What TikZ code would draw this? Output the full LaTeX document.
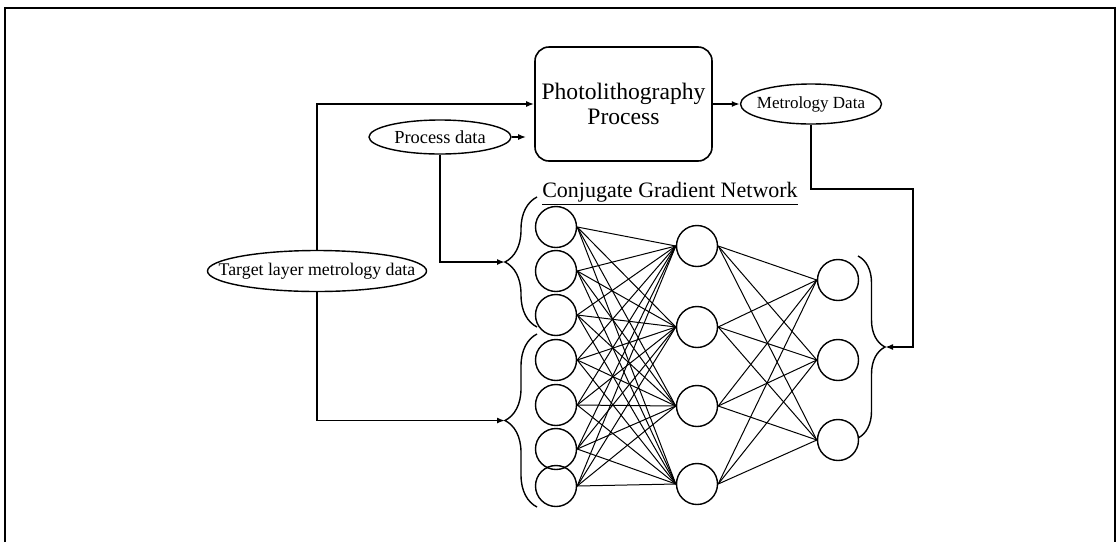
\documentclass[tikz,border=0pt]{standalone}
\usepackage{fontspec}
\setmainfont{Liberation Serif}
\usetikzlibrary{shapes.geometric}
\usetikzlibrary{decorations.pathreplacing}
\usetikzlibrary{arrows.meta}
\tikzset{
  % style for the data ellipses
  data/.style={draw,ellipse,inner sep=0pt,line width=0.7pt},
  % style for the neurons of the network
  neuron/.style={draw,circle,minimum size=20.5pt,inner sep=0pt,line width=0.7pt},
  % style for a connector with a small arrow at its end
  flow/.style={draw,line width=0.85pt,-{Latex[length=4pt,width=3pt]}},
  % style for the curly brackets
  bracket/.style={draw,line width=0.7pt,decorate,decoration={brace,amplitude=#1}},
  weight/.style={line width=0.5pt},
}
% text that may run wider than its ellipse
\newcommand{\squeezed}[1]{\makebox[0pt]{#1}}

\begin{document}
\begin{tikzpicture}[x=0.5pt,y=-0.5pt]
\useasboundingbox (0,0) rectangle (1117,542);
\draw[line width=1pt] (5,542)--(5,8)--(1115,8)--(1115,542);

\node[draw,rounded corners=7pt,minimum width=88.5pt,minimum height=57pt,inner xsep=0pt,
  align=center,line width=0.8pt,font=\fontsize{11.8}{12.5}\selectfont]
  (photo) at (623.5,104) {Photolithography\\Process};
\node[data,minimum width=70.5pt,minimum height=20pt,font=\fontsize{8.5}{10}\selectfont]
  (meas) at (811,104) {\squeezed{Metrology Data}};
\node[data,minimum width=71pt,minimum height=17pt,font=\fontsize{9.2}{11}\selectfont]
  (proc) at (440,137) {\squeezed{Process data}};
\node[data,minimum width=109.5pt,minimum height=20.5pt,font=\fontsize{8.9}{10}\selectfont]
  (tgt) at (317,271) {\squeezed{Target layer metrology data}};
\node[font=\fontsize{11}{13}\selectfont] (cgn) at (670,194)
  {\underline{Conjugate Gradient Network}};

\foreach \i/\y in {1/227,2/271,3/315,4/360,5/405,6/449,7/486}
  \node[neuron] (in\i) at (556,\y) {};
\foreach \j/\y in {1/246,2/327,3/406,4/484}
  \node[neuron] (hid\j) at (697,\y) {};
\foreach \k/\y in {1/280,2/360,3/440}
  \node[neuron] (out\k) at (838,\y) {};

\foreach \i in {1,...,7}
  \foreach \j in {1,...,4}
    \draw[weight] (in\i.east) -- (hid\j.west);
\foreach \j in {1,...,4}
  \foreach \k in {1,...,3}
    \draw[weight] (hid\j.east) -- (out\k.west);

% brackets round the inputs and the outputs
\draw[bracket=16pt] (537,327) -- (537,197);
\draw[bracket=16pt] (537,507) -- (537,334);
\draw[bracket=13.5pt] (858,256) -- (858,438);
\coordinate (uptip) at (505,262);
\coordinate (lowtip) at (505,420.5);
\coordinate (outtip) at (885,347);
\coordinate (fb) at (913,189);

\draw[flow] (tgt.north) |- (photo.west);
\draw[flow,shorten >=4pt] (proc.east) -- (proc.east -| photo.west);
\draw[flow] (photo.east) -- (meas.west);
\draw[flow] (proc.south) |- (uptip);
\draw[flow] (tgt.south) |- (lowtip);
\draw[flow] (meas.south) |- (fb) |- (outtip);
\end{tikzpicture}
\end{document}
